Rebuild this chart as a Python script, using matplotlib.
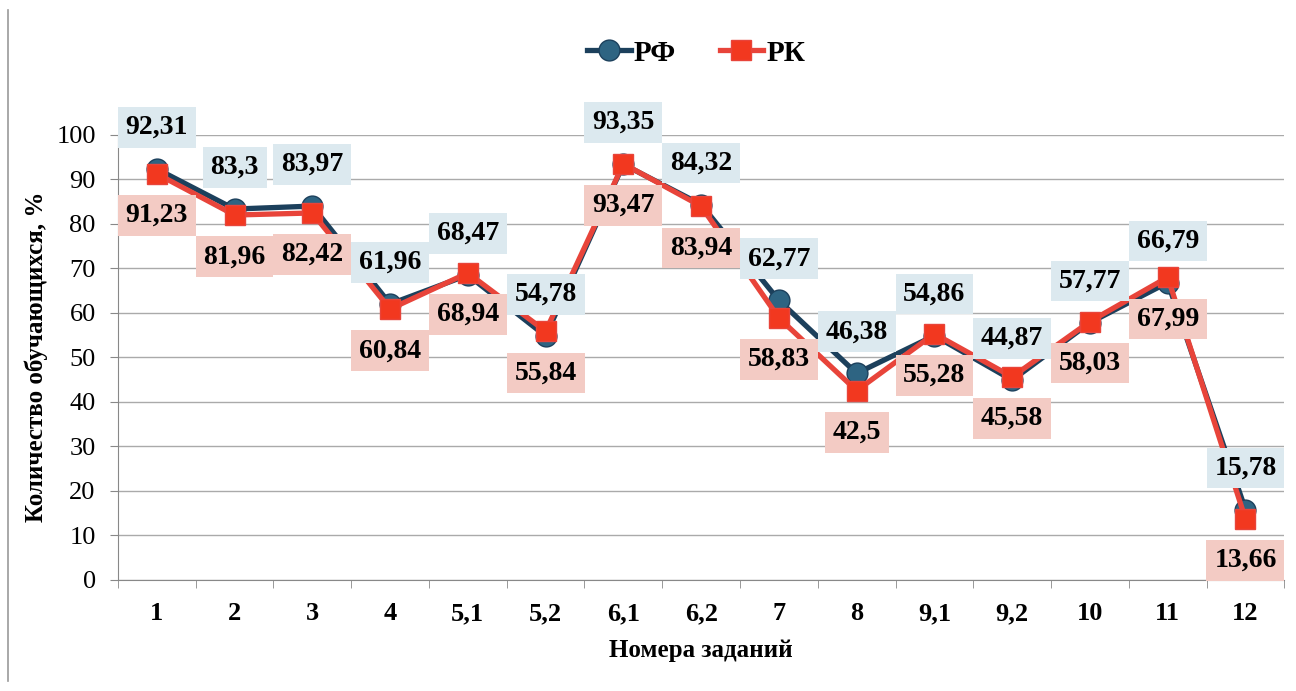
import matplotlib.pyplot as plt
import numpy as np
from matplotlib.lines import Line2D

# Данные
tasks = ['1', '2', '3', '4', '5,1', '5,2', '6,1', '6,2', '7', '8', '9,1', '9,2', '10', '11', '12']
rf = [92.31, 83.3, 83.97, 61.96, 68.47, 54.78, 93.35, 84.32, 62.77, 46.38, 54.86, 44.87, 57.77, 66.79, 15.78]
rk = [91.23, 81.96, 82.42, 60.84, 68.94, 55.84, 93.47, 83.94, 58.83, 42.5, 55.28, 45.58, 58.03, 67.99, 13.66]

plt.rcParams['font.family'] = ['Liberation Serif', 'DejaVu Serif']

fig = plt.figure(figsize=(12.96, 6.91), dpi=100)
ax = fig.add_axes([0.091, 0.161, 0.9, 0.644])

x = np.arange(len(tasks))
ax.plot(x, rf, color='#1c405c', lw=3.8, marker='o', ms=15,
        markerfacecolor='#2e6482', markeredgecolor='#1c405c', label='РФ', zorder=3)
ax.plot(x, rk, color='#e8443a', lw=3.8, marker='s', ms=15,
        markerfacecolor='#f2381f', markeredgecolor='#e8443a', label='РК', zorder=4)

def fmt(v):
    s = ('%.2f' % v).rstrip('0').rstrip('.')
    return s.replace('.', ',')

for xi, a, b in zip(x, rf, rk):
    ax.annotate(fmt(a), (xi, a), xytext=(0, 30), textcoords='offset points',
                ha='center', va='center', fontsize=20, fontweight='bold',
                bbox=dict(boxstyle='square,pad=0.28', fc='#dce9ef', ec='none'), zorder=5)
    ax.annotate(fmt(b), (xi, b), xytext=(0, -30), textcoords='offset points',
                ha='center', va='center', fontsize=20, fontweight='bold',
                bbox=dict(boxstyle='square,pad=0.28', fc='#f3cbc4', ec='none'), zorder=5)

ax.set_xlim(-0.5, len(tasks) - 0.5)
ax.set_ylim(0, 100)
ax.set_yticks(range(0, 101, 10))
ax.set_xticks(x)
ax.set_xticklabels(tasks, fontsize=19, fontweight='bold')
ax.set_xticks(np.arange(-0.5, len(tasks)), minor=True)
ax.tick_params(axis='x', which='major', length=0, pad=16)
ax.tick_params(axis='x', which='minor', length=6, color='#888888')
ax.tick_params(axis='y', length=6, color='#888888', labelsize=19, pad=10)
ax.grid(axis='y', color='#aaaaaa', lw=1)
ax.set_axisbelow(True)
for s in ['top', 'right']:
    ax.spines[s].set_visible(False)
ax.spines['left'].set_color('#888888')
ax.spines['bottom'].set_color('#888888')

ax.set_xlabel('Номера заданий', fontsize=18, fontweight='bold', labelpad=10)
ax.set_ylabel('Количество обучающихся, %', fontsize=18, fontweight='bold', labelpad=6)

fig.legend(loc='center', bbox_to_anchor=(0.537, 0.923), ncol=2, frameon=False,
           prop={'size': 21, 'weight': 'bold'}, handlelength=1.5, handletextpad=0.1,
           columnspacing=1.5)

# вертикальная линия слева (граница скана)
fig.add_artist(Line2D([0.006, 0.006], [0.015, 0.985], color='#999999', lw=1.2))

fig.savefig('out.png', dpi=100)
